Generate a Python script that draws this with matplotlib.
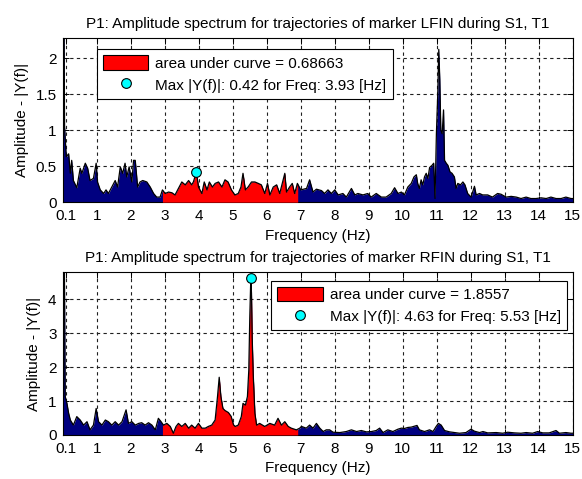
import numpy as np
import matplotlib
matplotlib.use("Agg")
import matplotlib.pyplot as plt
from matplotlib.patches import Patch
from matplotlib.lines import Line2D

plt.rcParams['font.family'] = ['Liberation Sans', 'DejaVu Sans']
plt.rcParams['font.size'] = 11

# ---------------------------------------------------------
# DATOS (espectro de amplitud)
# ---------------------------------------------------------
lfin_freq = [0.0, 0.05, 0.10, 0.17, 0.22, 0.26, 0.31, 0.41, 0.51, 0.56, 0.66, 0.73, 0.80, 0.90,
             0.98, 1.02, 1.10, 1.20, 1.27, 1.34, 1.44, 1.54, 1.61, 1.69, 1.76, 1.83, 1.88, 1.95,
             2.03, 2.08, 2.13, 2.20, 2.27, 2.35, 2.47, 2.57, 2.67, 2.76, 2.86, 2.93, 3.01, 3.11,
             3.21, 3.30, 3.40, 3.50, 3.60, 3.70, 3.79, 3.84, 3.93, 3.99, 4.09, 4.16, 4.24, 4.31,
             4.40, 4.48, 4.58, 4.68, 4.77, 4.86, 4.96, 5.06, 5.16, 5.24, 5.30, 5.37, 5.45, 5.55,
             5.65, 5.75, 5.84, 5.94, 6.02, 6.09, 6.19, 6.29, 6.38, 6.48, 6.53, 6.58, 6.67, 6.75,
             6.82, 6.90, 7.00, 7.17, 7.26, 7.36, 7.46, 7.61, 7.70, 7.80, 7.90, 8.00, 8.10, 8.24,
             8.34, 8.49, 8.59, 8.68, 8.83, 8.97, 9.07, 9.22, 9.37, 9.51, 9.66, 9.76, 9.86, 9.96,
             10.05, 10.15, 10.25, 10.33, 10.40, 10.44, 10.49, 10.54, 10.59, 10.64, 10.69, 10.74,
             10.79, 10.86, 10.91, 10.95, 10.99, 11.03, 11.06, 11.09, 11.12, 11.16, 11.20, 11.23,
             11.28, 11.33, 11.39, 11.45, 11.52, 11.57, 11.62, 11.70, 11.77, 11.83, 11.91, 12.01,
             12.11, 12.16, 12.26, 12.35, 12.50, 12.64, 12.79, 12.89, 13.04, 13.19, 13.34, 13.48,
             13.63, 13.77, 13.92, 14.07, 14.22, 14.36, 14.51, 14.66, 14.80, 14.95, 15.0]
lfin_amp = [6.0, 1.05, 0.63, 0.67, 0.40, 0.58, 0.30, 0.20, 0.47, 0.40, 0.54, 0.47, 0.30, 0.33,
            0.54, 0.28, 0.17, 0.12, 0.17, 0.12, 0.21, 0.30, 0.21, 0.49, 0.40, 0.54, 0.35, 0.49,
            0.28, 0.58, 0.58, 0.21, 0.28, 0.30, 0.28, 0.21, 0.12, 0.07, 0.07, 0.17, 0.12, 0.14,
            0.13, 0.10, 0.19, 0.28, 0.24, 0.30, 0.24, 0.28, 0.42, 0.21, 0.12, 0.28, 0.17, 0.28,
            0.21, 0.26, 0.28, 0.21, 0.31, 0.28, 0.17, 0.10, 0.12, 0.21, 0.40, 0.17, 0.21, 0.28,
            0.28, 0.26, 0.24, 0.12, 0.26, 0.10, 0.21, 0.24, 0.12, 0.31, 0.40, 0.14, 0.21, 0.26,
            0.12, 0.26, 0.17, 0.19, 0.31, 0.14, 0.18, 0.16, 0.12, 0.17, 0.12, 0.17, 0.10, 0.12,
            0.07, 0.19, 0.10, 0.12, 0.10, 0.12, 0.07, 0.12, 0.07, 0.07, 0.12, 0.20, 0.12, 0.14,
            0.10, 0.21, 0.26, 0.35, 0.38, 0.26, 0.19, 0.31, 0.24, 0.35, 0.40, 0.33,
            0.48, 0.51, 0.54, 0.05, 0.95, 1.50, 2.12, 1.70, 1.00, 0.95, 1.28, 0.58,
            0.54, 0.51, 0.42, 0.40, 0.35, 0.19, 0.26, 0.24, 0.28, 0.24, 0.12, 0.07,
            0.22, 0.10, 0.12, 0.10, 0.10, 0.07, 0.12, 0.11, 0.07, 0.08, 0.07, 0.05,
            0.07, 0.05, 0.05, 0.06, 0.05, 0.07, 0.05, 0.05, 0.07, 0.05, 0.05]

rfin_freq = [0.0, 0.07, 0.12, 0.17, 0.22, 0.31, 0.41, 0.51, 0.61, 0.71, 0.80, 0.90, 0.98, 1.05,
             1.15, 1.25, 1.34, 1.44, 1.54, 1.64, 1.74, 1.86, 1.93, 2.03, 2.13, 2.23, 2.32, 2.42,
             2.52, 2.62, 2.72, 2.81, 2.89, 2.96, 3.06, 3.16, 3.25, 3.33, 3.40, 3.50, 3.60, 3.70,
             3.79, 3.89, 3.99, 4.09, 4.19, 4.28, 4.38, 4.48, 4.55, 4.60, 4.65, 4.71, 4.77, 4.87,
             4.95, 5.02, 5.07, 5.16, 5.25, 5.30, 5.37, 5.43, 5.47, 5.50, 5.53, 5.55, 5.57, 5.60,
             5.65, 5.70, 5.79, 5.94, 6.09, 6.23, 6.33, 6.43, 6.53, 6.63, 6.72, 6.87, 6.97, 7.02,
             7.16, 7.26, 7.36, 7.46, 7.56, 7.66, 7.75, 7.85, 7.95, 8.15, 8.34, 8.49, 8.64, 8.78,
             8.93, 9.08, 9.22, 9.32, 9.42, 9.56, 9.71, 9.86, 9.96, 10.05, 10.15, 10.25, 10.35,
             10.42, 10.49, 10.64, 10.79, 10.89, 10.99, 11.05, 11.13, 11.23, 11.38, 11.52, 11.67,
             11.86, 12.01, 12.11, 12.26, 12.36, 12.50, 12.75, 12.94, 13.09, 13.29, 13.48, 13.63,
             13.82, 13.97, 14.12, 14.31, 14.51, 14.61, 14.80, 14.95, 15.0]
rfin_amp = [12.0, 1.13, 0.93, 0.64, 0.44, 0.29, 0.54, 0.44, 0.29, 0.39, 0.15, 0.29, 0.78, 0.39,
            0.29, 0.44, 0.39, 0.29, 0.39, 0.29, 0.39, 0.74, 0.34, 0.39, 0.29, 0.34, 0.36, 0.29,
            0.36, 0.29, 0.15, 0.49, 0.39, 0.29, 0.34, 0.25, 0.05, 0.25, 0.34, 0.25, 0.34, 0.20,
            0.29, 0.20, 0.34, 0.20, 0.20, 0.25, 0.29, 0.44, 1.13, 1.70, 1.13, 0.78, 0.72, 0.66,
            0.55, 0.30, 0.25, 0.29, 0.54, 0.93, 0.88, 1.13, 1.90, 3.48, 4.63, 4.17, 2.89, 1.81,
            0.64, 0.29, 0.34, 0.25, 0.34, 0.29, 0.49, 0.29, 0.39, 0.25, 0.20, 0.15, 0.20, 0.25,
            0.20, 0.29, 0.20, 0.34, 0.20, 0.10, 0.15, 0.15, 0.08, 0.07, 0.10, 0.15, 0.10, 0.13,
            0.09, 0.10, 0.13, 0.20, 0.07, 0.15, 0.10, 0.17, 0.20, 0.19, 0.22, 0.23, 0.26,
            0.28, 0.15, 0.10, 0.15, 0.10, 0.26, 0.34, 0.29, 0.13, 0.09, 0.07, 0.05,
            0.07, 0.17, 0.11, 0.07, 0.10, 0.06, 0.07, 0.05, 0.08, 0.06, 0.05, 0.07,
            0.05, 0.10, 0.06, 0.06, 0.13, 0.05, 0.07, 0.05, 0.05]

# banda de interes (area roja) y resultados del calculo
banda = (2.93, 6.91)
xticks = [0.1] + list(range(1, 16))

paneles = [
    dict(freq=lfin_freq, amp=lfin_amp, marker="LFIN", area="0.68663",
         fmax=3.93, amax=0.42, ylim=2.28, yticks=[0, 0.5, 1, 1.5, 2],
         yticklabels=["0", "0.5", "1", "1.5", "2"],
         pos=[0.108, 0.578, 0.876, 0.343], legloc="upper left", leganchor=(0.066, 0.93)),
    dict(freq=rfin_freq, amp=rfin_amp, marker="RFIN", area="1.8557",
         fmax=5.53, amax=4.63, ylim=4.8, yticks=[0, 1, 2, 3, 4],
         yticklabels=["0", "1", "2", "3", "4"],
         pos=[0.108, 0.092, 0.876, 0.340], legloc="upper right", leganchor=(0.989, 0.948)),
]

fig = plt.figure(figsize=(5.82, 4.79), dpi=100)
fig.patch.set_facecolor("white")

for p in paneles:
    ax = fig.add_axes(p["pos"])
    f = np.array(p["freq"])
    a = np.array(p["amp"])

    # AREA TOTAL EN AZUL MARINO
    ax.fill_between(f, 0, a, color="#000080", linewidth=0, zorder=2)

    # AREA DE LA BANDA EN ROJO
    fb = np.concatenate([[banda[0]], f[(f > banda[0]) & (f < banda[1])], [banda[1]]])
    ab = np.interp(fb, f, a)
    ax.fill_between(fb, 0, ab, color="#FF0000", linewidth=0, zorder=3)

    # CONTORNO DEL ESPECTRO
    ax.plot(f, a, color="black", linewidth=0.9, zorder=4)

    # MAXIMO
    ax.plot([p["fmax"]], [p["amax"]], "o", markerfacecolor="#00FFFF",
            markeredgecolor="black", markersize=7, markeredgewidth=0.8, zorder=5)

    ax.set_xlim(0, 15)
    ax.set_ylim(0, p["ylim"])
    ax.set_xticks(xticks)
    ax.set_xticklabels([str(t) for t in xticks])
    ax.set_yticks(p["yticks"])
    ax.set_yticklabels(p["yticklabels"])
    ax.tick_params(direction="in", top=True, right=True, length=4, width=0.7,
                   labelsize=11)
    ax.tick_params(axis="x", pad=5)
    ax.tick_params(axis="y", pad=4.5)
    ax.set_axisbelow(True)
    ax.grid(True, color="#202020", linestyle=(0, (3, 3)), linewidth=0.8)
    for s in ax.spines.values():
        s.set_linewidth(0.8)

    ax.set_title(f"P1: Amplitude spectrum for trajectories of marker {p['marker']} during S1, T1",
                 fontsize=11, pad=7)
    ax.set_xlabel("Frequency (Hz)", fontsize=11, labelpad=4)
    ax.set_ylabel("Amplitude - |Y(f)|", fontsize=11, labelpad=5)

    handles = [
        Patch(facecolor="#FF0000", edgecolor="black", linewidth=0.8,
              label=f"area under curve = {p['area']}"),
        Line2D([], [], linestyle="none", marker="o", markerfacecolor="#00FFFF",
               markeredgecolor="black", markersize=7, markeredgewidth=0.8,
               label=f"Max |Y(f)|: {p['amax']:.2f} for Freq: {p['fmax']:.2f} [Hz]"),
    ]
    leg = ax.legend(handles=handles, loc=p["legloc"], bbox_to_anchor=p["leganchor"],
                    fancybox=False, framealpha=1, edgecolor="black", fontsize=11,
                    handlelength=3.0, handleheight=1.1, handletextpad=0.45,
                    labelspacing=0.4, borderpad=0.4, borderaxespad=0)
    leg.get_frame().set_linewidth(0.8)
    leg.set_zorder(10)

plt.savefig("out.png", dpi=100)
plt.close()
